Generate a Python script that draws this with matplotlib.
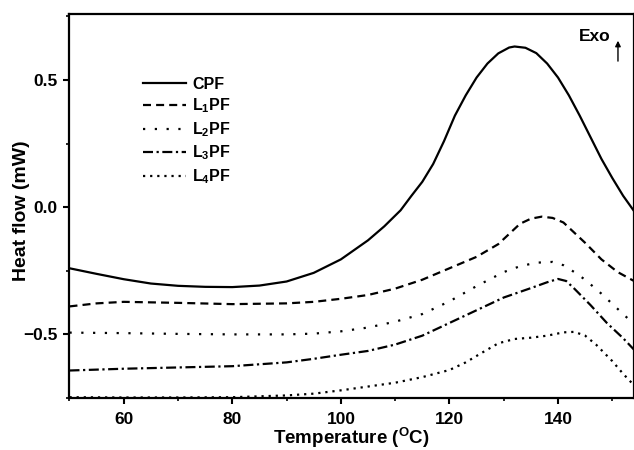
import matplotlib
matplotlib.use("Agg")
import matplotlib.pyplot as plt
from matplotlib.ticker import MultipleLocator

plt.rcParams['font.family'] = ['Liberation Sans', 'DejaVu Sans']
plt.rcParams['font.weight'] = 'bold'
plt.rcParams['mathtext.fontset'] = 'custom'
plt.rcParams['mathtext.rm'] = 'Liberation Sans:bold'
plt.rcParams['mathtext.bf'] = 'Liberation Sans:bold'
plt.rcParams['mathtext.it'] = 'Liberation Sans:bold'

# Data
t_cpf = [50, 55, 60, 65, 70, 75, 80, 85, 90, 95, 100, 105, 108, 111, 113, 115, 117, 119, 121, 123, 125, 127, 129, 131, 132, 134, 136, 138, 140, 142, 144, 146, 148, 150, 152, 154]
v_cpf = [-0.24, -0.262, -0.283, -0.300, -0.309, -0.313, -0.314, -0.308, -0.292, -0.258, -0.205, -0.13, -0.075, -0.012, 0.045, 0.10, 0.17, 0.26, 0.36, 0.44, 0.51, 0.565, 0.605, 0.628, 0.632, 0.627, 0.606, 0.565, 0.51, 0.44, 0.36, 0.275, 0.19, 0.115, 0.045, -0.015]

t_l1 = [50, 55, 60, 70, 80, 90, 95, 100, 105, 110, 115, 120, 125, 127, 129, 131, 133, 135, 137, 139, 141, 143, 145, 148, 151, 154]
v_l1 = [-0.39, -0.378, -0.372, -0.376, -0.381, -0.378, -0.372, -0.36, -0.345, -0.32, -0.285, -0.24, -0.195, -0.17, -0.145, -0.105, -0.065, -0.045, -0.037, -0.042, -0.06, -0.10, -0.14, -0.205, -0.255, -0.29]

t_l2 = [50, 60, 70, 80, 90, 95, 100, 105, 110, 115, 120, 125, 130, 133, 136, 139, 141, 143, 145, 148, 151, 154]
v_l2 = [-0.493, -0.495, -0.498, -0.5, -0.5, -0.497, -0.488, -0.473, -0.45, -0.42, -0.37, -0.31, -0.255, -0.232, -0.218, -0.215, -0.228, -0.255, -0.285, -0.34, -0.40, -0.46]

t_l3 = [50, 60, 70, 80, 90, 95, 100, 105, 110, 115, 120, 125, 130, 135, 138, 140, 141.5, 143, 146, 149, 152, 154]
v_l3 = [-0.642, -0.635, -0.63, -0.625, -0.61, -0.596, -0.58, -0.565, -0.54, -0.505, -0.455, -0.405, -0.355, -0.318, -0.295, -0.282, -0.29, -0.32, -0.385, -0.455, -0.515, -0.56]

t_l4 = [50, 60, 70, 80, 90, 95, 100, 105, 110, 115, 120, 123, 126, 129, 132, 135, 138, 141, 143, 145, 147, 150, 152, 154]
v_l4 = [-0.747, -0.748, -0.748, -0.747, -0.74, -0.733, -0.72, -0.705, -0.69, -0.668, -0.64, -0.61, -0.572, -0.535, -0.518, -0.513, -0.505, -0.492, -0.49, -0.505, -0.54, -0.605, -0.655, -0.70]

labels = ["CPF", r"L$_{1}$PF", r"L$_{2}$PF", r"L$_{3}$PF", r"L$_{4}$PF"]

fig = plt.figure(figsize=(6.34, 4.5), dpi=100)
ax = fig.add_axes([0.1096, 0.1156, 0.8904, 0.8534])

lw = 1.6
ax.plot(t_cpf, v_cpf, color='black', lw=lw, ls='-', label=labels[0])
ax.plot(t_l1, v_l1, color='black', lw=lw, ls=(0, (3.6, 2.3)), label=labels[1])
ax.plot(t_l2, v_l2, color='black', lw=lw, ls=(0, (1, 4.3)), label=labels[2])
ax.plot(t_l3, v_l3, color='black', lw=lw, ls=(0, (4.5, 1.6, 1, 1.6)), label=labels[3])
ax.plot(t_l4, v_l4, color='black', lw=lw, ls=(0, (1, 2.2)), label=labels[4])

ax.set_xlim(50, 154)
ax.set_ylim(-0.75, 0.76)
ax.xaxis.set_major_locator(MultipleLocator(20))
ax.xaxis.set_minor_locator(MultipleLocator(10))
ax.yaxis.set_major_locator(MultipleLocator(0.5))
ax.yaxis.set_minor_locator(MultipleLocator(0.25))
ax.tick_params(which='major', direction='out', length=4.5, width=1.5, labelsize=12.5, pad=4)
ax.tick_params(axis='x', which='major', pad=5.5)
ax.tick_params(which='minor', direction='out', length=2.5, width=1.2)
for lab in ax.get_xticklabels() + ax.get_yticklabels():
    lab.set_fontweight('bold')
for s in ax.spines.values():
    s.set_linewidth(1.6)

ax.set_xlabel(r"Temperature ($^{\mathrm{O}}$C)", fontsize=13.5, fontweight='bold', labelpad=-1)
ax.set_ylabel("Heat flow (mW)", fontsize=14, fontweight='bold')
ax.yaxis.set_label_coords(-0.07, 0.487)

leg = ax.legend(loc='upper left', bbox_to_anchor=(0.130, 0.836), frameon=False,
                borderpad=0, borderaxespad=0,
                handlelength=2.7, handletextpad=0.37, labelspacing=0.3,
                prop={'weight': 'bold', 'size': 11.5})

ax.text(0.9575, 0.962, "Exo", transform=ax.transAxes, fontsize=12.5, fontweight='bold',
        ha='right', va='top')
ax.annotate("", xy=(0.9716, 0.9375), xytext=(0.9716, 0.870), xycoords='axes fraction',
            arrowprops=dict(arrowstyle='-|>', color='black', lw=1.0, mutation_scale=8))

fig.savefig("out.png", dpi=100)
